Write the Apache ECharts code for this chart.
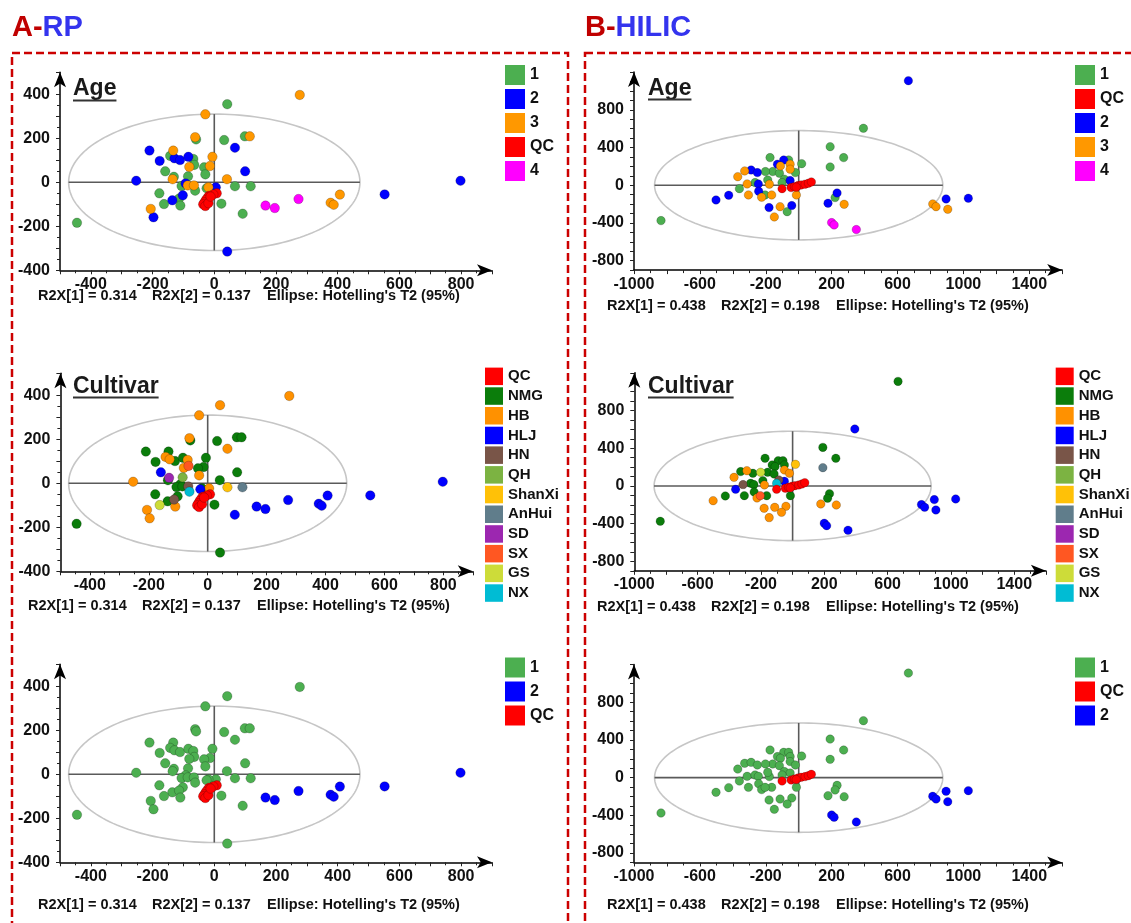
<!DOCTYPE html>
<html>
<head>
<meta charset="UTF-8">
<script src="https://cdn.jsdelivr.net/npm/echarts@6/dist/echarts.min.js"></script>
<style>
html, body { margin: 0; padding: 0; background: #fff; }
#chart { width: 1131px; height: 923px; }
</style>
</head>
<body>
<div id="chart"></div>
<script>
// ---- RP (panel A) scores, one entry per sample, last 10 are QC ----
const rpScores = [
    [277, 397], [42, 355], [-29, 309], [-62, 205], [-59, 195], [32, 192], [99, 209], [115, 209], [67, 157], [-210, 144],
    [-133, 144], [-143, 120], [-129, 109], [-111, 101], [-84, 116], [-177, 97], [-68, 106], [-65, 79], [-6, 116], [-81, 70],
    [-14, 74], [-33, 68], [-159, 50], [100, 50], [-29, 36], [-131, 25], [-135, 14], [-85, 27], [-253, 7], [41, 14],
    [-93, -5], [-106, -17], [-86, -14], [-66, -14], [-62, -38], [5, -23], [-19, -23], [-25, -27], [67, -18], [118, -18],
    [798, 7], [552, -55], [407, -56], [377, -93], [387, -102], [273, -76], [166, -106], [196, -117], [-178, -50], [-102, -59],
    [-136, -82], [-114, -74], [-163, -99], [-110, -106], [-206, -121], [-197, -159], [23, -97], [92, -143], [-445, -184], [42, -315],
    [8, -50], [-3, -55], [-16, -61], [-21, -68], [-27, -80], [-32, -91], [-36, -100], [-29, -108], [-19, -95], [-12, -65]
];
const rpAge = [
    '3', '1', '3', '3', '1', '1', '1', '3', '2', '2',
    '3', '1', '2', '2', '2', '2', '1', '1', '3', '3',
    '3', '1', '1', '2', '1', '1', '3', '1', '2', '3',
    '2', '1', '3', '3', '1', '2', '3', '1', '1', '1',
    '2', '2', '3', '3', '3', '4', '4', '4', '1', '2',
    '2', '1', '1', '1', '3', '2', '1', '1', '1', '2',
    'QC', 'QC', 'QC', 'QC', 'QC', 'QC', 'QC', 'QC', 'QC', 'QC'
];
const rpCultivar = [
    'HB', 'HB', 'HB', 'HB', 'NMG', 'NMG', 'NMG', 'NMG', 'HB', 'NMG',
    'NMG', 'HB', 'HB', 'NMG', 'NMG', 'NMG', 'HB', 'SX', 'NMG', 'HB',
    'NMG', 'NMG', 'HLJ', 'NMG', 'HB', 'SD', 'NMG', 'QH', 'HB', 'NMG',
    'NMG', 'NMG', 'NMG', 'HN', 'NX', 'HB', 'NMG', 'HLJ', 'ShanXi', 'AnHui',
    'HLJ', 'HLJ', 'HLJ', 'HLJ', 'HLJ', 'HLJ', 'HLJ', 'HLJ', 'NMG', 'NMG',
    'NMG', 'HN', 'GS', 'HB', 'HB', 'HB', 'NMG', 'HLJ', 'NMG', 'NMG',
    'QC', 'QC', 'QC', 'QC', 'QC', 'QC', 'QC', 'QC', 'QC', 'QC'
];
const rpGroup = [
    '1', '1', '1', '1', '1', '1', '1', '1', '1', '1',
    '1', '1', '1', '1', '1', '1', '1', '1', '1', '1',
    '1', '1', '1', '1', '1', '1', '1', '1', '1', '1',
    '1', '1', '1', '1', '1', '1', '1', '1', '1', '1',
    '2', '2', '2', '2', '2', '2', '2', '2', '1', '1',
    '1', '1', '1', '1', '1', '1', '1', '1', '1', '1',
    'QC', 'QC', 'QC', 'QC', 'QC', 'QC', 'QC', 'QC', 'QC', 'QC'
];

// ---- HILIC (panel B) scores, last 9 are QC ----
const hilicScores = [
    [666, 1109], [393, 604], [191, 409], [273, 293], [191, 194], [-174, 293], [-91, 268], [-61, 268], [-52, 223], [-52, 170],
    [-129, 223], [-111, 205], [-158, 145], [18, 229], [-20, 134], [-328, 152], [-289, 162], [-251, 134], [-202, 145], [-370, 91],
    [-117, 127], [-87, 64], [-52, 49], [-313, 14], [-265, 28], [-245, 14], [-178, 11], [-188, 56], [-360, -36], [-243, -64],
    [-305, -103], [-225, -127], [-164, -103], [-204, -103], [-425, -106], [-502, -156], [-14, -103], [-180, -237], [-113, -227], [-42, -216],
    [-70, -280], [-148, -336], [233, -82], [221, -131], [178, -191], [276, -202], [814, -198], [834, -227], [895, -145], [1030, -138],
    [905, -255], [200, -396], [215, -421], [350, -470], [-836, -375], [-101, 28],
    [-101, -36], [-46, -25], [-26, -15], [-4, -4], [15, 3], [39, 11], [59, 21], [77, 35], [-15, -20]
];
const hilicAge = [
    '2', '1', '1', '1', '1', '1', '2', '1', '3', '3',
    '2', '3', '1', '1', '1', '3', '2', '2', '1', '3',
    '1', '1', '2', '3', '1', '2', '3', '1', '1', '2',
    '3', '3', '3', '1', '2', '2', '3', '2', '3', '2',
    '1', '3', '2', '1', '2', '3', '3', '3', '2', '2',
    '3', '4', '4', '4', '1', '1',
    'QC', 'QC', 'QC', 'QC', 'QC', 'QC', 'QC', 'QC', 'QC'
];
const hilicCultivar = [
    'NMG', 'HLJ', 'NMG', 'NMG', 'AnHui', 'NMG', 'NMG', 'NMG', 'NMG', 'HB',
    'NMG', 'NMG', 'NMG', 'ShanXi', 'HB', 'NMG', 'HB', 'NMG', 'GS', 'HB',
    'NMG', 'HN', 'HLJ', 'HN', 'NMG', 'NMG', 'HB', 'NMG', 'HLJ', 'NMG',
    'NMG', 'HB', 'NMG', 'SX', 'NMG', 'HB', 'NMG', 'HB', 'HB', 'HB',
    'HB', 'HB', 'NMG', 'NMG', 'HB', 'HB', 'HLJ', 'HLJ', 'HLJ', 'HLJ',
    'HLJ', 'HLJ', 'HLJ', 'HLJ', 'NMG', 'NX',
    'QC', 'QC', 'QC', 'QC', 'QC', 'QC', 'QC', 'QC', 'QC'
];
const hilicGroup = [
    '1', '1', '1', '1', '1', '1', '1', '1', '1', '1',
    '1', '1', '1', '1', '1', '1', '1', '1', '1', '1',
    '1', '1', '1', '1', '1', '1', '1', '1', '1', '1',
    '1', '1', '1', '1', '1', '1', '1', '1', '1', '1',
    '1', '1', '1', '1', '1', '1', '2', '2', '2', '2',
    '2', '2', '2', '2', '1', '1',
    'QC', 'QC', 'QC', 'QC', 'QC', 'QC', 'QC', 'QC', 'QC'
];

// legends (order as printed)
const rpAgeLegend = ['1', '2', '3', 'QC', '4'];
const hilicAgeLegend = ['1', 'QC', '2', '3', '4'];
const cultivarLegend = ['QC', 'NMG', 'HB', 'HLJ', 'HN', 'QH', 'ShanXi', 'AnHui', 'SD', 'SX', 'GS', 'NX'];
const rpGroupLegend = ['1', '2', 'QC'];
const hilicGroupLegend = ['1', 'QC', '2'];

// tick labels
const rpXTicks = [-400, -200, 0, 200, 400, 600, 800];
const rpYTicks = [-400, -200, 0, 200, 400];
const hilicXTicks = [-1000, -600, -200, 200, 600, 1000, 1400];
const hilicYTicks = [-800, -400, 0, 400, 800];

// model summary
const rpR2X = ['0.314', '0.137'];
const hilicR2X = ['0.438', '0.198'];
const rpEllipse = [472, 310];      // Hotelling's T2 semi-axes
const hilicEllipse = [875, 580];

// ========================
// styles
// ========================
const FONT = "'Liberation Sans', Arial, Helvetica, sans-serif";

const AGE_COLORS = { '1': '#4caf50', '2': '#0000ff', '3': '#ff9800', '4': '#ff00ff', 'QC': '#ff0000' };
const CULTIVAR_COLORS = {
    QC: '#ff0000', NMG: '#0b7d0b', HB: '#ff9100', HLJ: '#0000ff', HN: '#795548', QH: '#7cb342',
    ShanXi: '#ffc107', AnHui: '#607d8b', SD: '#9c27b0', SX: '#ff5722', GS: '#cddc39', NX: '#00bcd4'
};

const RP_X = { min: -500, max: 900, interval: 100, minor: 2, ticks: rpXTicks };
const RP_Y = { min: -400, max: 500, interval: 100, minor: 2, ticks: rpYTicks };
const HI_X = { min: -1000, max: 1600, interval: 200, minor: 2, ticks: hilicXTicks };
const HI_Y = { min: -900, max: 1200, interval: 100, minor: 0, ticks: hilicYTicks };

const BIG_LEG = { item: 20, h: 20, gap: 4, font: 16 };
const SMALL_LEG = { item: 18, h: 17.5, gap: 2.2, font: 15 };

const PANELS = [
    { scores: rpScores, classes: rpAge, names: rpAgeLegend, colors: AGE_COLORS, ax: RP_X, ay: RP_Y, ell: rpEllipse, size: 9.5,
      grid: { left: 60, top: 72.3, width: 432, height: 198 }, leg: { left: 505, top: 65, s: BIG_LEG },
      title: { text: 'Age', x: 73, y: 89, line: 100.5 }, note: { x: 38, y: 296, r2x: rpR2X } },
    { scores: rpScores, classes: rpCultivar, names: cultivarLegend, colors: CULTIVAR_COLORS, ax: RP_X, ay: RP_Y, ell: rpEllipse, size: 9.5,
      grid: { left: 60.4, top: 373.3, width: 412.4, height: 198 }, leg: { left: 485, top: 367.6, s: SMALL_LEG },
      title: { text: 'Cultivar', x: 73, y: 387, line: 397.5 }, note: { x: 28, y: 606, r2x: rpR2X } },
    { scores: rpScores, classes: rpGroup, names: rpGroupLegend, colors: AGE_COLORS, ax: RP_X, ay: RP_Y, ell: rpEllipse, size: 9.5,
      grid: { left: 60, top: 664.3, width: 432, height: 198 }, leg: { left: 505, top: 657.5, s: BIG_LEG },
      title: null, note: { x: 38, y: 905, r2x: rpR2X } },
    { scores: hilicScores, classes: hilicAge, names: hilicAgeLegend, colors: AGE_COLORS, ax: HI_X, ay: HI_Y, ell: hilicEllipse, size: 8.5,
      grid: { left: 634, top: 72.1, width: 428.2, height: 198 }, leg: { left: 1075, top: 65, s: BIG_LEG },
      title: { text: 'Age', x: 648, y: 88.5, line: 99.5 }, note: { x: 607, y: 306, r2x: hilicR2X } },
    { scores: hilicScores, classes: hilicCultivar, names: cultivarLegend, colors: CULTIVAR_COLORS, ax: HI_X, ay: HI_Y, ell: hilicEllipse, size: 8.5,
      grid: { left: 634.3, top: 372.8, width: 411.6, height: 198 }, leg: { left: 1055.7, top: 367.6, s: SMALL_LEG },
      title: { text: 'Cultivar', x: 648, y: 387, line: 397.5 }, note: { x: 597, y: 607, r2x: hilicR2X } },
    { scores: hilicScores, classes: hilicGroup, names: hilicGroupLegend, colors: AGE_COLORS, ax: HI_X, ay: HI_Y, ell: hilicEllipse, size: 8.5,
      grid: { left: 634, top: 664.5, width: 428.2, height: 198 }, leg: { left: 1075, top: 657.5, s: BIG_LEG },
      title: null, note: { x: 607, y: 905, r2x: hilicR2X } }
];

// offsets of the three pieces of the footnote line
const NOTE_OFFSETS = [0, 114, 229];

// ========================
// helpers
// ========================
const measureCtx = document.createElement('canvas').getContext('2d');
function textWidth(str, font) {
    measureCtx.font = font;
    return measureCtx.measureText(str).width;
}

function makeAxis(i, a, isX) {
    return {
        type: 'value',
        gridIndex: i,
        min: a.min,
        max: a.max,
        interval: a.interval,
        position: isX ? 'bottom' : 'left',
        axisLine: {
            show: true,
            onZero: false,
            symbol: ['none', 'arrow'],
            symbolSize: [9, 15],
            lineStyle: { color: '#000', width: 1.5 }
        },
        axisTick: { show: true, inside: false, length: 4, lineStyle: { color: '#222', width: 1 } },
        minorTick: { show: a.minor > 0, splitNumber: a.minor || 1, length: 3, lineStyle: { color: '#222', width: 1 } },
        splitLine: { show: false },
        minorSplitLine: { show: false },
        axisLabel: {
            show: true,
            margin: isX ? 6 : 10,
            color: '#111',
            fontFamily: FONT,
            fontWeight: 'bold',
            fontSize: 16,
            formatter: v => (a.ticks.indexOf(Math.round(v)) >= 0 ? String(Math.round(v)) : '')
        }
    };
}

function ellipseItem(params, api) {
    const rx = api.value(0), ry = api.value(1);
    const pts = [];
    for (let k = 0; k <= 180; k++) {
        const t = k / 180 * Math.PI * 2;
        pts.push(api.coord([rx * Math.cos(t), ry * Math.sin(t)]));
    }
    const l = api.coord([-rx, 0]), r = api.coord([rx, 0]);
    const top = api.coord([0, ry]), bot = api.coord([0, -ry]);
    return {
        type: 'group',
        children: [
            { type: 'polyline', shape: { points: pts }, style: { stroke: '#c6c6c6', lineWidth: 1.6, fill: 'none' } },
            { type: 'line', shape: { x1: l[0], y1: l[1], x2: r[0], y2: r[1] }, style: { stroke: '#5a5a5a', lineWidth: 1.6 } },
            { type: 'line', shape: { x1: top[0], y1: top[1], x2: bot[0], y2: bot[1] }, style: { stroke: '#5a5a5a', lineWidth: 1.6 } }
        ]
    };
}

// ========================
// option
// ========================
const grids = [], xAxes = [], yAxes = [], series = [], legends = [], graphics = [];

PANELS.forEach((p, i) => {
    grids.push(Object.assign({ containLabel: false }, p.grid));
    xAxes.push(makeAxis(i, p.ax, true));
    yAxes.push(makeAxis(i, p.ay, false));

    series.push({
        type: 'custom',
        xAxisIndex: i,
        yAxisIndex: i,
        data: [p.ell],
        renderItem: ellipseItem,
        silent: true,
        clip: false,
        z: 1
    });

    // QC last so the red cluster sits on top
    const order = p.names.filter(n => n !== 'QC').concat(['QC']);
    order.forEach(name => {
        series.push({
            type: 'scatter',
            name: name,
            xAxisIndex: i,
            yAxisIndex: i,
            data: p.scores.filter((_, k) => p.classes[k] === name),
            symbol: 'circle',
            symbolSize: p.size,
            itemStyle: { color: p.colors[name], borderColor: 'rgba(0,0,0,0.35)', borderWidth: 0.6, opacity: 1 },
            silent: true,
            z: 3
        });
    });

    legends.push({
        orient: 'vertical',
        left: p.leg.left,
        top: p.leg.top,
        padding: 0,
        icon: 'rect',
        itemWidth: p.leg.s.item,
        itemHeight: p.leg.s.h,
        itemGap: p.leg.s.gap,
        selectedMode: false,
        data: p.names,
        itemStyle: { borderWidth: 0 },
        textStyle: { fontFamily: FONT, fontWeight: 'bold', fontSize: p.leg.s.font, color: '#111' }
    });

    if (p.title) {
        const f = 'bold 23px ' + FONT;
        const w = textWidth(p.title.text, f);
        graphics.push({
            type: 'text', x: p.title.x, y: p.title.y,
            style: { text: p.title.text, font: f, fill: '#1a1a1a', align: 'left', verticalAlign: 'middle' }
        });
        graphics.push({
            type: 'line',
            shape: { x1: p.title.x, y1: p.title.line, x2: p.title.x + w, y2: p.title.line },
            style: { stroke: '#333', lineWidth: 2 }
        });
    }

    const pieces = [
        'R2X[1] = ' + p.note.r2x[0],
        'R2X[2] = ' + p.note.r2x[1],
        'Ellipse: Hotelling\'s T2 (95%)'
    ];
    pieces.forEach((txt, k) => {
        graphics.push({
            type: 'text', x: p.note.x + NOTE_OFFSETS[k], y: p.note.y,
            style: { text: txt, font: 'bold 14.5px ' + FONT, fill: '#111', align: 'left', verticalAlign: 'middle' }
        });
    });
});

// section headers + dashed frames
graphics.push({
    type: 'text', x: 12, y: 28,
    style: {
        text: '{r|A-}{b|RP}', verticalAlign: 'middle', align: 'left',
        rich: {
            r: { fontFamily: FONT, fontWeight: 'bold', fontSize: 29, fill: '#c00000' },
            b: { fontFamily: FONT, fontWeight: 'bold', fontSize: 29, fill: '#3434ee' }
        }
    }
});
graphics.push({
    type: 'text', x: 585, y: 28,
    style: {
        text: '{r|B-}{b|HILIC}', verticalAlign: 'middle', align: 'left',
        rich: {
            r: { fontFamily: FONT, fontWeight: 'bold', fontSize: 29, fill: '#c00000' },
            b: { fontFamily: FONT, fontWeight: 'bold', fontSize: 29, fill: '#3434ee' }
        }
    }
});
graphics.push({
    type: 'rect', shape: { x: 12, y: 53, width: 556, height: 920 },
    style: { fill: 'none', stroke: '#cc0000', lineWidth: 2.5, lineDash: [8, 4] }, z: 0
});
graphics.push({
    type: 'rect', shape: { x: 585, y: 53, width: 600, height: 920 },
    style: { fill: 'none', stroke: '#cc0000', lineWidth: 2.5, lineDash: [8, 4] }, z: 0
});

const chart = echarts.init(document.getElementById('chart'), null, { renderer: 'canvas' });
chart.setOption({
    animation: false,
    backgroundColor: '#fff',
    grid: grids,
    xAxis: xAxes,
    yAxis: yAxes,
    legend: legends,
    graphic: graphics,
    series: series
});
</script>
</body>
</html>
